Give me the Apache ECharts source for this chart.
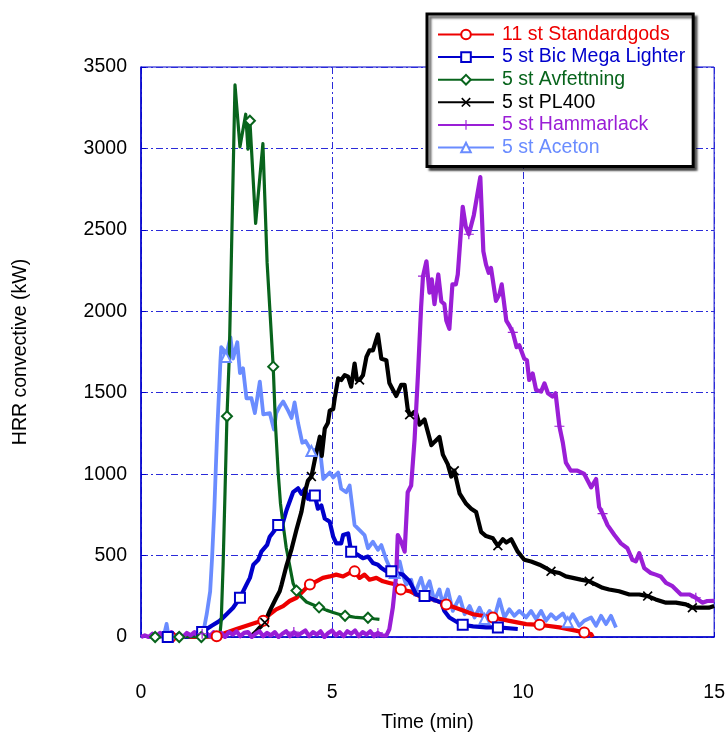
<!DOCTYPE html>
<html>
<head>
<meta charset="utf-8">
<script src="https://cdn.jsdelivr.net/npm/echarts/dist/echarts.min.js"></script>
<style>
  html, body { margin: 0; padding: 0; background: #ffffff; overflow: hidden; }
  #chart { width: 728px; height: 738px; }
</style>
</head>
<body>
<div id="chart"></div>
<script>
// Convective heat release rate, time in minutes, HRR in kW.
const standardgods = [
  [0.78,0],[1.2,0],[1.6,0],[1.98,5],[2.24,28],[2.5,49],[2.76,69],[3.02,89],[3.2,100],[3.37,140],
  [3.54,170],[3.72,190],[3.89,221],[4.07,241],[4.2,272],[4.33,302],[4.42,322],[4.59,342],[4.76,363],
  [4.94,372],[5.11,383],[5.29,372],[5.46,393],[5.59,403],[5.72,363],[5.85,383],[5.98,352],[6.16,363],
  [6.33,342],[6.5,332],[6.68,322],[6.8,292],[7.03,281],[7.29,251],[7.64,231],[7.99,200],[8.34,170],
  [8.69,140],[9.21,120],[9.64,99],[10.08,79],[10.43,75],[10.95,59],[11.38,39],[11.6,28],[11.78,18],[11.82,0]
];
const standardgodsMarks = [0.78,1.98,3.2,4.42,5.59,6.8,7.99,9.21,10.43,11.6];

const bicMegaLighter = [
  [0.7,0],[1.2,0],[1.6,30],[1.85,69],[2.06,99],[2.24,140],[2.41,180],[2.59,241],[2.76,322],[2.85,363],
  [2.94,444],[3.07,474],[3.15,524],[3.3,565],[3.37,616],[3.5,656],[3.59,687],[3.68,676],[3.81,780],
  [3.98,889],[4.11,913],[4.2,879],[4.29,910],[4.37,849],[4.46,889],[4.55,869],[4.63,788],[4.72,808],
  [4.81,727],[4.94,707],[5.03,616],[5.11,575],[5.24,575],[5.29,626],[5.42,636],[5.5,524],[5.68,504],
  [5.81,484],[5.94,494],[6.07,454],[6.2,444],[6.29,423],[6.42,403],[6.55,403],[6.68,393],[6.85,383],
  [7.03,342],[7.2,261],[7.42,251],[7.64,231],[7.86,211],[7.94,160],[8.07,120],[8.29,89],[8.42,75],
  [8.69,65],[9.03,59],[9.34,59],[9.86,49]
];
const bicMarks = [0.7,1.6,2.59,3.59,4.55,5.5,6.55,7.42,8.42,9.34];

const avfettning = [
  [0.37,0],[1.0,0],[1.58,0],[2.06,0],[2.1,100],[2.15,450],[2.2,900],[2.25,1355],[2.31,1720],[2.46,3390],
  [2.59,3010],[2.74,3210],[2.8,2995],[2.85,3170],[3.0,2540],[3.19,3030],[3.3,2300],[3.46,1660],[3.52,1300],
  [3.59,1010],[3.65,820],[3.72,690],[3.8,550],[3.89,440],[3.98,330],[4.07,285],[4.2,245],[4.33,215],
  [4.5,198],[4.66,182],[4.85,165],[5.03,150],[5.18,140],[5.34,130],[5.5,125],[5.63,120],[5.8,118],
  [5.94,118],[6.1,112],[6.24,108]
];
const avfettningMarks = [0.37,1.0,1.58,2.25,2.85,3.46,4.07,4.66,5.34,5.94];

const pl400 = [
  [2.85,0],[3.0,30],[3.11,59],[3.24,89],[3.37,160],[3.54,241],[3.63,281],[3.68,322],[3.81,440],[3.94,540],
  [4.07,660],[4.2,770],[4.29,889],[4.37,960],[4.46,985],[4.57,1112],[4.68,1230],[4.73,1112],[4.81,1280],
  [4.89,1314],[4.94,1390],[5.03,1400],[5.07,1466],[5.16,1588],[5.24,1578],[5.33,1608],[5.42,1598],
  [5.5,1537],[5.59,1679],[5.65,1578],[5.72,1578],[5.81,1608],[5.9,1720],[5.98,1760],[6.07,1760],
  [6.2,1858],[6.29,1709],[6.42,1700],[6.5,1560],[6.55,1537],[6.68,1480],[6.72,1487],[6.81,1548],
  [6.9,1548],[6.98,1400],[7.03,1365],[7.2,1375],[7.29,1304],[7.42,1335],[7.6,1178],[7.68,1198],
  [7.81,1228],[7.9,1120],[8.03,1060],[8.12,985],[8.2,1021],[8.34,880],[8.51,818],[8.64,788],[8.77,767],
  [8.9,646],[9.03,620],[9.21,606],[9.34,560],[9.47,600],[9.56,580],[9.69,600],[9.86,524],[10.03,474],
  [10.21,464],[10.43,444],[10.6,423],[10.73,403],[10.95,393],[11.12,372],[11.3,363],[11.51,352],
  [11.73,342],[11.91,322],[12.08,302],[12.25,292],[12.51,281],[12.78,261],[13.04,261],[13.26,251],
  [13.47,231],[13.74,211],[14.0,211],[14.26,200],[14.43,180],[14.69,180],[14.86,180],[15.0,190]
];
const pl400Marks = [3.24,4.46,5.72,7.03,8.2,9.34,10.73,11.73,13.26,14.43];

const hammarlack = [
  [0,0],[0.1,10],[0.2,0],[0.3,20],[0.4,5],[0.5,25],[0.6,0],[0.7,15],[0.8,30],[0.9,5],[1.0,20],[1.1,0],
  [1.2,25],[1.3,10],[1.4,30],[1.5,0],[1.6,20],[1.7,25],[1.8,5],[1.9,30],[2.0,10],[2.1,25],[2.2,0],
  [2.3,30],[2.4,15],[2.5,35],[2.6,5],[2.7,25],[2.8,30],[2.9,0],[3.0,20],[3.1,35],[3.2,5],[3.3,25],
  [3.4,10],[3.5,30],[3.6,0],[3.7,20],[3.8,35],[3.9,5],[4.0,30],[4.1,10],[4.2,25],[4.3,40],[4.4,5],
  [4.5,30],[4.6,15],[4.7,35],[4.8,0],[4.9,25],[5.0,40],[5.1,10],[5.2,30],[5.3,5],[5.4,35],[5.5,20],
  [5.6,40],[5.7,5],[5.8,30],[5.9,15],[6.0,35],[6.1,5],[6.2,25],[6.3,10],[6.42,8],[6.5,49],[6.59,180],
  [6.68,383],[6.72,626],[6.81,585],[6.9,524],[6.98,889],[7.07,930],[7.16,1213],[7.25,1618],[7.33,2023],
  [7.38,2216],[7.47,2307],[7.55,2115],[7.61,2196],[7.68,2044],[7.78,2226],[7.86,2060],[7.94,2044],
  [7.99,1943],[8.07,1892],[8.15,2165],[8.24,2165],[8.29,2226],[8.42,2641],[8.5,2520],[8.58,2473],
  [8.71,2590],[8.88,2824],[8.96,2368],[9.03,2287],[9.1,2236],[9.16,2266],[9.29,2064],[9.38,2104],
  [9.44,2165],[9.56,1943],[9.64,1912],[9.73,1871],[9.83,1780],[9.9,1791],[10.03,1709],[10.1,1699],
  [10.16,1578],[10.25,1618],[10.34,1517],[10.47,1507],[10.56,1557],[10.65,1497],[10.77,1477],[10.85,1497],
  [10.95,1294],[11.04,1193],[11.12,1071],[11.25,1021],[11.42,1021],[11.6,1001],[11.78,919],[11.91,970],
  [11.99,798],[12.08,758],[12.21,687],[12.39,626],[12.56,575],[12.73,545],[12.86,474],[12.95,464],
  [13.04,515],[13.17,423],[13.34,393],[13.47,383],[13.6,372],[13.74,332],[13.91,312],[14.13,261],
  [14.35,261],[14.52,241],[14.69,211],[14.82,221],[15.0,222]
];
const hammarlackMarks = [1.6,4.0,6.2,7.38,8.58,9.73,10.95,12.08,13.26,14.52];

const aceton = [
  [0.2,0],[0.5,0],[0.6,10],[0.67,80],[0.72,5],[0.9,0],[1.2,5],[1.5,10],[1.63,28],[1.72,140],[1.81,280],
  [1.86,485],[1.92,790],[1.96,1050],[2.0,1295],[2.04,1495],[2.08,1700],[2.1,1780],[2.17,1760],[2.22,1720],
  [2.34,1840],[2.41,1710],[2.52,1810],[2.59,1620],[2.67,1650],[2.76,1466],[2.89,1466],[2.98,1375],
  [3.11,1568],[3.2,1367],[3.37,1375],[3.48,1274],[3.54,1375],[3.63,1416],[3.72,1446],[3.76,1456],
  [3.85,1390],[3.94,1345],[4.02,1440],[4.11,1314],[4.22,1193],[4.31,1203],[4.46,1142],[4.59,1152],
  [4.66,1203],[4.77,970],[4.94,1010],[5.03,980],[5.16,1010],[5.24,910],[5.37,889],[5.46,930],[5.59,687],
  [5.72,656],[5.85,626],[5.94,545],[6.07,585],[6.2,535],[6.29,565],[6.42,474],[6.55,403],[6.64,393],
  [6.77,464],[6.85,383],[6.94,322],[7.07,352],[7.16,261],[7.33,363],[7.42,281],[7.55,342],[7.68,221],
  [7.81,292],[7.9,200],[8.03,292],[8.16,160],[8.34,245],[8.47,140],[8.6,190],[8.73,120],[8.86,180],
  [8.99,110],[9.12,160],[9.25,120],[9.38,231],[9.51,120],[9.64,170],[9.77,130],[9.9,160],[10.08,120],
  [10.21,160],[10.34,110],[10.47,160],[10.6,100],[10.73,140],[10.86,110],[11.04,144],[11.17,90],
  [11.3,140],[11.47,69],[11.6,100],[11.78,120],[11.91,69],[12.04,130],[12.17,79],[12.3,130],[12.43,59]
];
const acetonMarks = [2.22,4.46,6.64,8.99,11.17];

const xTickStep = 5;
const yTickStep = 500;

const FONT = "'Liberation Sans', Arial, sans-serif";
const FONT_SIZE = 19.5;
const AXIS_BLUE = '#0000cc';
const GRID_BLUE = '#2b2bd9';

// thin filled cross shapes for the x and + markers
const X_MARK = 'path://M0,1.2L1.2,0L5,3.8L8.8,0L10,1.2L6.2,5L10,8.8L8.8,10L5,6.2L1.2,10L0,8.8L3.8,5Z';
const PLUS_MARK = 'path://M4.4,0H5.6V4.4H10V5.6H5.6V10H4.4V5.6H0V4.4H4.4Z';

// series listed in drawing order (first drawn lowest)
const defs = [
  { name: '5 st Aceton', data: aceton, marks: acetonMarks, color: '#6a8cff', symbol: 'emptyTriangle', width: 3.8 },
  { name: '11 st Standardgods', data: standardgods, marks: standardgodsMarks, color: '#ee0000', symbol: 'emptyCircle', width: 4.2 },
  { name: '5 st Bic Mega Lighter', data: bicMegaLighter, marks: bicMarks, color: '#0000cc', symbol: 'emptyRect', width: 4.2 },
  { name: '5 st Avfettning', data: avfettning, marks: avfettningMarks, color: '#08641c', symbol: 'emptyDiamond', width: 3.2 },
  { name: '5 st PL400', data: pl400, marks: pl400Marks, color: '#000000', symbol: X_MARK, width: 4.2 },
  { name: '5 st Hammarlack', data: hammarlack, marks: hammarlackMarks, color: '#9a1ed6', symbol: PLUS_MARK, width: 4.2 }
];
const legendOrder = ['11 st Standardgods','5 st Bic Mega Lighter','5 st Avfettning','5 st PL400','5 st Hammarlack','5 st Aceton'];

const chart = echarts.init(document.getElementById('chart'), null, { renderer: 'canvas', width: 728, height: 738 });

const series = defs.map(d => {
  const isPath = d.symbol.startsWith('path://');
  return {
    name: d.name,
    type: 'line',
    data: d.data,
    color: d.color,
    symbol: d.symbol,
    symbolSize: (v) => d.marks.includes(v[0]) ? 10 : 0,
    showSymbol: true,
    showAllSymbol: true,
    lineStyle: { color: d.color, width: d.width, join: 'round' },
    itemStyle: isPath
      ? { color: d.color, borderWidth: 0 }
      : { color: d.color, borderColor: d.color, borderWidth: 1.1 },
    emphasis: { disabled: true },
    silent: true,
    animation: false
  };
});

const splitLineStyle = { color: GRID_BLUE, width: 1, type: [7, 3, 2, 3] };

chart.setOption({
  animation: false,
  backgroundColor: '#ffffff',
  textStyle: { fontFamily: FONT },
  grid: {
    left: 141, right: 13, top: 67, bottom: 95,
    show: true, borderColor: AXIS_BLUE, borderWidth: 1, backgroundColor: 'transparent'
  },
  legend: {
    orient: 'vertical',
    left: 427,
    top: 14,
    data: legendOrder.map(n => ({ name: n, textStyle: { color: defs.find(d => d.name === n).color } })),
    itemWidth: 56,
    itemHeight: 12,
    itemGap: 2.6,
    padding: [10.5, 8, 9, 10],
    backgroundColor: '#ffffff',
    borderColor: '#000000',
    borderWidth: 3,
    shadowColor: 'rgba(0,0,0,0.55)',
    shadowOffsetX: 3,
    shadowOffsetY: 3,
    shadowBlur: 2,
    selectedMode: false,
    textStyle: { fontFamily: FONT, fontSize: FONT_SIZE, lineHeight: 19, padding: [0, 0, 0, 3] }
  },
  xAxis: {
    type: 'value',
    min: 0,
    max: 15,
    interval: xTickStep,
    name: 'Time (min)',
    nameLocation: 'middle',
    nameGap: 76,
    nameTextStyle: { fontFamily: FONT, fontSize: FONT_SIZE, color: '#000' },
    axisLine: { show: true, onZero: false, lineStyle: { color: AXIS_BLUE, width: 1.5 } },
    axisTick: { show: true, inside: true, length: 5, lineStyle: { color: AXIS_BLUE } },
    axisLabel: { margin: 46, fontFamily: FONT, fontSize: FONT_SIZE, color: '#000', showMaxLabel: true, showMinLabel: true },
    splitLine: { show: true, lineStyle: splitLineStyle }
  },
  yAxis: {
    type: 'value',
    min: 0,
    max: 3500,
    interval: yTickStep,
    name: 'HRR convective (kW)',
    nameLocation: 'middle',
    nameGap: 110,
    nameTextStyle: { fontFamily: FONT, fontSize: FONT_SIZE, color: '#000' },
    axisLine: { show: true, lineStyle: { color: AXIS_BLUE, width: 1.5 } },
    axisTick: { show: true, inside: true, length: 5, lineStyle: { color: AXIS_BLUE } },
    axisLabel: { margin: 14, fontFamily: FONT, fontSize: FONT_SIZE, color: '#000', formatter: (v) => String(v) },
    splitLine: { show: true, lineStyle: splitLineStyle }
  },
  series: series
});
</script>
</body>
</html>
